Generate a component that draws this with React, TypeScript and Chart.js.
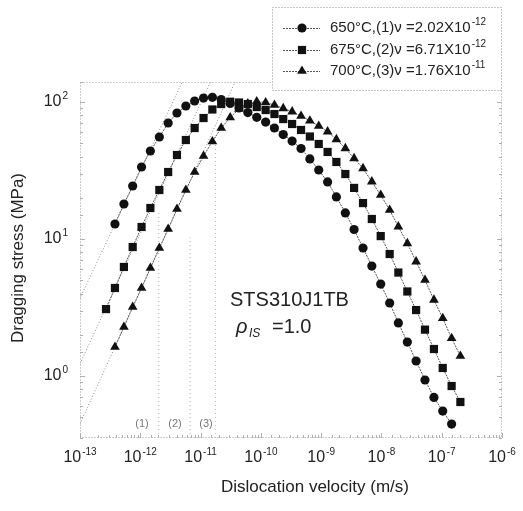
import React, { useEffect, useRef } from "react";
import { Chart, registerables } from "chart.js";
Chart.register(...registerables);

// Dislocation velocity columns (m/s)
const velocities = [
  2.7e-13, 3.8e-13, 5.35e-13, 7.48e-13, 1.05e-12, 1.47e-12, 2.07e-12, 2.9e-12, 4.06e-12, 5.7e-12,
  7.98e-12, 1.12e-11, 1.57e-11, 2.2e-11, 3.1e-11, 4.34e-11, 6.08e-11, 8.55e-11, 1.2e-10, 1.68e-10,
  2.35e-10, 3.3e-10, 4.64e-10, 6.5e-10, 9.12e-10, 1.28e-9, 1.79e-9, 2.52e-9, 3.52e-9, 4.95e-9,
  6.93e-9, 9.73e-9, 1.37e-8, 1.91e-8, 2.69e-8, 3.76e-8, 5.28e-8, 7.43e-8, 1.04e-7, 1.46e-7, 2.04e-7,
];
// Dragging stress (MPa)
const stress650 = [
  null, 12.87, 18.01, 24.37, 33.54, 43.88, 55.53, 70.26, 83.13, 93.5,
  101.7, 106.9, 108.2, 104.3, 97.5, 90.4, 83.8, 77.3, 71.4, 64.6,
  57.9, 51.9, 45.8, 38.4, 31.9, 26.1, 20.3, 15.5, 11.73, 8.6,
  6.35, 4.69, 3.41, 2.44, 1.77, 1.287, 0.935, 0.697, 0.555, 0.446, null,
];
const stress675 = [
  3.08, 4.39, 6.25, 8.74, 12.24, 16.84, 22.79, 30.84, 41.03, 52.8,
  64.6, 76.4, 88.2, 96.7, 100.5, 99.2, 96.7, 91.9, 87.4, 81.7,
  75.1, 69.1, 62.5, 56.0, 49.4, 43.2, 36.5, 29.8, 23.6, 18.3,
  14.0, 10.5, 7.77, 5.69, 4.14, 3.03, 2.18, 1.574, 1.144, 0.845, 0.646,
];
const stress700 = [
  null, 1.628, 2.279, 3.19, 4.39, 6.14, 8.6, 11.83, 16.56, 22.79,
  30.84, 40.35, 51.5, 64.6, 77.1, 88.9, 97.5, 100.8, 99.2, 95.1,
  89.9, 85.0, 79.0, 73.0, 66.8, 60.7, 53.4, 45.9, 38.8, 32.8,
  26.2, 20.95, 16.28, 12.3, 9.3, 6.83, 5.02, 3.59, 2.64, 1.884, 1.4,
];
const seriesLabels = ["650°C,(1)ν =2.02X10", "675°C,(2)ν =6.71X10", "700°C,(3)ν =1.76X10"];
const seriesExponents = [-12, -12, -11];
const seriesStyles = ["circle", "rect", "triangle"];

// characteristic velocities and their marks
const nuValues = [2.02e-12, 6.71e-12, 1.76e-11];
const nuLineTops = [15.5, 10.3, 55.6];
const nuMarkLabels = ["(1)", "(2)", "(3)"];
const nuMarkVelocities = [1.07e-12, 3.76e-12, 1.23e-11];

// low-velocity asymptotes
const slopeStartV = [1e-13, 1e-13, 1e-13];
const slopeStartS = [3.7, 1.23, 0.446];
const slopeEndV = [4.95e-12, 1.46e-11, 3.73e-11];
const slopeEndS = [140, 140, 140];

const xTickExponents = [-13, -12, -11, -10, -9, -8, -7, -6];
const yTickExponents = [0, 1, 2];
const X_MIN = 1e-13;
const X_MAX = 1e-6;
const Y_MIN = 0.3527;
const Y_MAX = 140;

const FONT = "'Liberation Sans', Arial, sans-serif";
const INK = "#222";

function isPow10(v: number) {
  const l = Math.log10(v);
  return Math.abs(l - Math.round(l)) < 1e-6;
}

function drawPow(ctx: CanvasRenderingContext2D, x: number, y: number, e: number, align: string, baseSize: number, expSize: number) {
  const base = "10";
  const ex = String(e);
  ctx.font = `${baseSize}px ${FONT}`;
  const wb = ctx.measureText(base).width;
  ctx.font = `${expSize}px ${FONT}`;
  const we = ctx.measureText(ex).width;
  const w = wb + 1 + we;
  let sx = x;
  if (align === "center") sx = x - w / 2;
  else if (align === "right") sx = x - w;
  ctx.textAlign = "left";
  ctx.textBaseline = "middle";
  ctx.font = `${baseSize}px ${FONT}`;
  ctx.fillText(base, sx, y);
  ctx.font = `${expSize}px ${FONT}`;
  ctx.fillText(ex, sx + wb + 1, y - baseSize * 0.38);
}

function drawMarker(ctx: CanvasRenderingContext2D, style: string, x: number, y: number, r: number) {
  ctx.beginPath();
  if (style === "circle") {
    ctx.arc(x, y, r, 0, Math.PI * 2);
  } else if (style === "rect") {
    const s = Math.SQRT1_2 * r;
    ctx.rect(x - s, y - s, 2 * s, 2 * s);
  } else {
    let rad = 0;
    ctx.moveTo(x + Math.sin(rad) * r, y - Math.cos(rad) * r);
    rad += (2 * Math.PI) / 3;
    ctx.lineTo(x + Math.sin(rad) * r, y - Math.cos(rad) * r);
    rad += (2 * Math.PI) / 3;
    ctx.lineTo(x + Math.sin(rad) * r, y - Math.cos(rad) * r);
    ctx.closePath();
  }
  ctx.fill();
}

const markerRadius: Record<string, number> = { circle: 4.6, rect: 5.8, triangle: 5.6 };

const decorPlugin = {
  id: "decor",
  beforeDatasetsDraw(chart: any) {
    const { ctx, chartArea: a, scales } = chart;
    const xs = scales.x;
    const ys = scales.y;
    ctx.save();
    ctx.strokeStyle = "#9a9a9a";
    ctx.lineWidth = 1;
    ctx.setLineDash([1, 2]);
    ctx.strokeRect(a.left + 0.5, a.top + 0.5, a.right - a.left - 1, a.bottom - a.top - 1);
    ctx.setLineDash([]);
    ctx.strokeStyle = "#b0b0b0";
    ctx.beginPath();
    xs.ticks.forEach((t: any) => {
      const px = Math.round(xs.getPixelForValue(t.value)) + 0.5;
      const len = isPow10(t.value) ? 5 : 3;
      ctx.moveTo(px, a.bottom);
      ctx.lineTo(px, a.bottom - len);
    });
    ys.ticks.forEach((t: any) => {
      const py = Math.round(ys.getPixelForValue(t.value)) + 0.5;
      const len = isPow10(t.value) ? 5 : 3;
      ctx.moveTo(a.left, py);
      ctx.lineTo(a.left + len, py);
      ctx.moveTo(a.right, py);
      ctx.lineTo(a.right - len, py);
    });
    ctx.stroke();
    ctx.restore();
  },
  afterDraw(chart: any) {
    const { ctx, chartArea: a, scales } = chart;
    const xs = scales.x;
    const ys = scales.y;
    ctx.save();
    ctx.fillStyle = INK;
    // tick labels
    xTickExponents.forEach((e) => {
      drawPow(ctx, xs.getPixelForValue(Math.pow(10, e)), a.bottom + 20, e, "center", 16, 10);
    });
    yTickExponents.forEach((e) => {
      drawPow(ctx, a.left - 12, ys.getPixelForValue(Math.pow(10, e)), e, "right", 16, 10);
    });
    // axis titles
    ctx.font = `17px ${FONT}`;
    ctx.textAlign = "center";
    ctx.textBaseline = "middle";
    ctx.fillText("Dislocation velocity (m/s)", 315, 487);
    ctx.save();
    ctx.translate(18, 258);
    ctx.rotate(-Math.PI / 2);
    ctx.fillText("Dragging stress (MPa)", 0, 0);
    ctx.restore();
    // nu marks
    ctx.fillStyle = "#777";
    ctx.font = `11px ${FONT}`;
    nuMarkLabels.forEach((lab, i) => {
      ctx.fillText(lab, xs.getPixelForValue(nuMarkVelocities[i]), a.bottom - 14);
    });
    // material annotation
    ctx.fillStyle = INK;
    ctx.textAlign = "left";
    ctx.font = `20px ${FONT}`;
    ctx.fillText("STS310J1TB", 230, 300);
    ctx.font = `italic 20px ${FONT}`;
    ctx.fillText("ρ", 236, 327);
    ctx.font = `italic 12px ${FONT}`;
    ctx.fillText("IS", 249, 334);
    ctx.font = `20px ${FONT}`;
    ctx.fillText("=1.0", 272, 327);
    // legend
    const lx = 272, ly = 7, lw = 230, lh = 84;
    ctx.fillStyle = "#fff";
    ctx.fillRect(lx, ly, lw, lh);
    ctx.strokeStyle = "#8a8a8a";
    ctx.lineWidth = 1;
    ctx.setLineDash([1, 2]);
    ctx.strokeRect(lx + 0.5, ly + 0.5, lw - 1, lh - 1);
    const rows = [28, 50, 71];
    seriesLabels.forEach((lab, i) => {
      const y = rows[i];
      ctx.strokeStyle = "#555";
      ctx.setLineDash([2, 1]);
      ctx.beginPath();
      ctx.moveTo(283, y + 0.5);
      ctx.lineTo(320, y + 0.5);
      ctx.stroke();
      ctx.setLineDash([]);
      ctx.fillStyle = "#111";
      drawMarker(ctx, seriesStyles[i], 302, y, markerRadius[seriesStyles[i]]);
      ctx.fillStyle = INK;
      ctx.font = `15px ${FONT}`;
      ctx.textAlign = "left";
      ctx.textBaseline = "middle";
      ctx.fillText(lab, 330, y);
      const w = ctx.measureText(lab).width;
      ctx.font = `10px ${FONT}`;
      ctx.fillText(String(seriesExponents[i]), 330 + w + 1, y - 6);
    });
    ctx.restore();
  },
};

export default function App() {
  const ref = useRef<HTMLCanvasElement | null>(null);
  useEffect(() => {
    if (!ref.current) return;
    const series = [stress650, stress675, stress700];
    const mainSets = series.map((s, k) => ({
      label: seriesLabels[k],
      data: velocities
        .map((v, i) => (s[i] == null ? null : { x: v, y: s[i] as number }))
        .filter((p) => p !== null),
      pointStyle: seriesStyles[k],
      pointRadius: markerRadius[seriesStyles[k]],
      pointBackgroundColor: "#111",
      pointBorderColor: "#111",
      pointBorderWidth: 0,
      borderColor: "#555",
      borderWidth: 1,
      borderDash: [2, 1],
      fill: false,
      tension: 0,
      order: 0,
    }));
    const slopeSets = slopeStartV.map((v, i) => ({
      label: "slope" + i,
      data: [
        { x: v, y: slopeStartS[i] },
        { x: slopeEndV[i], y: slopeEndS[i] },
      ],
      pointRadius: 0,
      borderColor: "#8c8c8c",
      borderWidth: 1,
      borderDash: [1, 2],
      fill: false,
      order: 5,
    }));
    const nuSets = nuValues.map((v, i) => ({
      label: "nu" + i,
      data: [
        { x: v, y: Y_MIN },
        { x: v, y: nuLineTops[i] },
      ],
      pointRadius: 0,
      borderColor: "#b5b5b5",
      borderWidth: 1,
      borderDash: [1, 3],
      fill: false,
      order: 6,
    }));
    const chart = new Chart(ref.current, {
      type: "line",
      data: { datasets: [...mainSets, ...slopeSets, ...nuSets] as any },
      options: {
        animation: false,
        responsive: false,
        devicePixelRatio: 1,
        layout: { padding: { left: 0, top: 82, right: 21, bottom: 0 } },
        plugins: { legend: { display: false }, tooltip: { enabled: false } },
        scales: {
          x: {
            type: "logarithmic",
            min: X_MIN,
            max: X_MAX,
            grid: { display: false, drawTicks: false },
            border: { display: false },
            ticks: { display: false },
            afterFit: (s: any) => {
              s.height = 73;
            },
          },
          y: {
            type: "logarithmic",
            min: Y_MIN,
            max: Y_MAX,
            grid: { display: false, drawTicks: false },
            border: { display: false },
            ticks: { display: false },
            afterFit: (s: any) => {
              s.width = 80;
            },
          },
        },
      } as any,
      plugins: [decorPlugin],
    });
    return () => chart.destroy();
  }, []);
  return (
    <div style={{ position: "fixed", left: 0, top: 0, width: 523, height: 511, background: "#fff" }}>
      <canvas ref={ref} width={523} height={511} style={{ display: "block" }} />
    </div>
  );
}
